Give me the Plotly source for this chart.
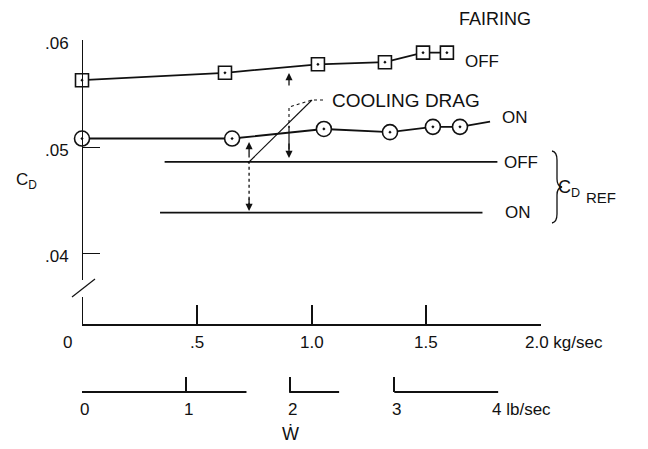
import plotly.graph_objects as go

W, H = 648, 449

# ---------------- data ----------------
# fairing OFF (squares), mass flow in kg/sec vs C_D
off_x = [0.0, 0.623, 1.028, 1.320, 1.486, 1.590]
off_cd = [0.0563, 0.0570, 0.0578, 0.0580, 0.0589, 0.0589]
# fairing ON (circles)
on_x = [0.0, 0.654, 1.054, 1.342, 1.529, 1.647]
on_cd = [0.0508, 0.0508, 0.0517, 0.0514, 0.0519, 0.0519]
# faired extension of the ON curve past the last point
on_tail_x = [1.647, 1.778]
on_tail_cd = [0.0519, 0.0524]
# reference drag levels
ref_off_x = [0.36, 1.81]
ref_off_cd = [0.0486, 0.0486]
ref_on_x = [0.34, 1.745]
ref_on_cd = [0.0438, 0.0438]

cd_ticks = [0.04, 0.05, 0.06]
cd_labels = [".04", ".05", ".06"]
kg_ticks = [0.0, 0.5, 1.0, 1.5, 2.0]
kg_labels = ["0", ".5", "1.0", "1.5", "2.0 kg/sec"]
lb_ticks = [0, 1, 2, 3, 4]
lb_labels = ["0", "1", "2", "3", "4 lb/sec"]
lb_axis_segments = [(0.0, 1.58), (1.99, 2.47), (3.0, 4.0)]
LB_TO_KG = 0.45359

# cooling-drag dimension marks (x in kg/sec, C_D values)
dim_off_x = 0.902
dim_off_top = 0.05698
dim_off_bot = 0.04896
dim_on_x = 0.728
dim_on_top = 0.05047
dim_on_bot = 0.04396

# ---------------- layout geometry ----------------
X0_PX, X2_PX = 82, 541          # kg axis 0 .. 2.0
Y_AX_PX = 324                    # kg axis height
Y_TOP_PX = 40
LB_AX_PX = 392
KG_PER_PX = 2.0 / (X2_PX - X0_PX)
Y05_PX, PX_PER_CD = 147, 10600.0


def px(x):
    return x / W


def py(y):
    return 1 - y / H


y_range = [0.05 - (Y_AX_PX - Y05_PX) / PX_PER_CD, 0.05 + (Y05_PX - Y_TOP_PX) / PX_PER_CD]
lb_end_px = X0_PX + 4 * LB_TO_KG / KG_PER_PX

FONT = "Liberation Sans, Arial, DejaVu Sans, sans-serif"
INK = "#111111"
TICK_FONT = 17

fig = go.Figure()

line_style = dict(color=INK, width=1.8)
fig.add_trace(go.Scatter(x=ref_off_x, y=ref_off_cd, mode="lines", line=line_style,
                         showlegend=False, hoverinfo="skip"))
fig.add_trace(go.Scatter(x=ref_on_x, y=ref_on_cd, mode="lines", line=line_style,
                         showlegend=False, hoverinfo="skip"))
fig.add_trace(go.Scatter(x=on_tail_x, y=on_tail_cd, mode="lines", line=line_style,
                         showlegend=False, hoverinfo="skip"))
fig.add_trace(go.Scatter(
    x=off_x, y=off_cd, mode="lines+markers", line=line_style, cliponaxis=False,
    marker=dict(symbol="square-dot", size=13, color="white", line=dict(color=INK, width=1.6)),
    showlegend=False, name="Fairing off"))
fig.add_trace(go.Scatter(
    x=on_x, y=on_cd, mode="lines+markers", line=line_style, cliponaxis=False,
    marker=dict(symbol="circle-dot", size=15, color="white", line=dict(color=INK, width=1.6)),
    showlegend=False, name="Fairing on"))
# trace that brings the lb/sec axis into existence
fig.add_trace(go.Scatter(x=[0, 4], y=[None, None], xaxis="x2", yaxis="y", mode="lines",
                         showlegend=False, hoverinfo="skip"))

shapes = []
# broken C_D axis
shapes.append(dict(type="line", xref="x", yref="paper", x0=0, x1=0, y0=py(Y_TOP_PX), y1=py(280),
                   line=dict(color=INK, width=2)))
shapes.append(dict(type="line", xref="x", yref="paper", x0=0, x1=0, y0=py(297), y1=py(Y_AX_PX),
                   line=dict(color=INK, width=2)))
shapes.append(dict(type="line", xref="paper", yref="paper", x0=px(72), y0=py(297), x1=px(95), y1=py(279),
                   line=dict(color=INK, width=1.2)))
# lb/sec axis line (with the gaps of the original)
for a, b in lb_axis_segments:
    shapes.append(dict(type="line", xref="x2", yref="paper", x0=a, x1=b, y0=py(LB_AX_PX), y1=py(LB_AX_PX),
                       line=dict(color=INK, width=2)))
# cooling drag leader lines
shapes.append(dict(type="path", xref="paper", yref="paper",
                   path=f"M {px(323)},{py(100)} L {px(312)},{py(100)} L {px(289)},{py(107)} L {px(289)},{py(128)}",
                   line=dict(color=INK, width=1.1, dash="dot")))
shapes.append(dict(type="line", xref="paper", yref="paper", x0=px(312), y0=py(100), x1=px(248), y1=py(163),
                   line=dict(color=INK, width=1.1)))
# dimension lines
shapes.append(dict(type="line", xref="x", yref="y", x0=dim_off_x, x1=dim_off_x,
                   y0=dim_off_bot + 0.0008, y1=0.0520, line=dict(color=INK, width=1.2)))
shapes.append(dict(type="line", xref="x", yref="y", x0=dim_on_x, x1=dim_on_x,
                   y0=dim_on_bot + 0.0005, y1=0.0486, line=dict(color=INK, width=1.3, dash="dot")))
# brace for C_D REF
bx, by0, by1 = 552, 151, 223
bm = (by0 + by1) / 2
shapes.append(dict(type="path", xref="paper", yref="paper",
                   path=(f"M {px(bx)},{py(by0)} Q {px(bx+5)},{py(by0+1)} {px(bx+5)},{py(by0+9)} "
                         f"L {px(bx+5)},{py(bm-8)} Q {px(bx+5)},{py(bm-1)} {px(bx+10)},{py(bm)} "
                         f"Q {px(bx+5)},{py(bm+1)} {px(bx+5)},{py(bm+8)} "
                         f"L {px(bx+5)},{py(by1-9)} Q {px(bx+5)},{py(by1-1)} {px(bx)},{py(by1)}"),
                   line=dict(color=INK, width=1.3)))

ann = []


def text(t, x, y, size=17, xanchor="center", yanchor="middle"):
    ann.append(dict(text=t, x=px(x), y=py(y), xref="paper", yref="paper", showarrow=False,
                    xanchor=xanchor, yanchor=yanchor, font=dict(family=FONT, size=size, color=INK)))


# C_D tick labels
for v, lab in zip(cd_ticks, cd_labels):
    ann.append(dict(text=lab, x=px(71), y=v, xref="paper", yref="y", yshift=-3, showarrow=False,
                    xanchor="right", yanchor="middle", font=dict(family=FONT, size=TICK_FONT, color=INK)))
# kg/sec tick labels
for v, lab in zip(kg_ticks, kg_labels):
    if v == 0:
        ann.append(dict(text=lab, x=v, y=py(342), xref="x", yref="paper", xshift=-15, showarrow=False,
                        xanchor="center", yanchor="middle", font=dict(family=FONT, size=TICK_FONT, color=INK)))
    elif v == kg_ticks[-1]:
        ann.append(dict(text=lab, x=v, y=py(342), xref="x", yref="paper", xshift=-18, showarrow=False,
                        xanchor="left", yanchor="middle", font=dict(family=FONT, size=TICK_FONT, color=INK)))
    else:
        ann.append(dict(text=lab, x=v, y=py(342), xref="x", yref="paper", showarrow=False,
                        xanchor="center", yanchor="middle", font=dict(family=FONT, size=TICK_FONT, color=INK)))
# lb/sec tick labels
for v, lab in zip(lb_ticks, lb_labels):
    if v == lb_ticks[-1]:
        ann.append(dict(text=lab, x=v, y=py(409), xref="x2", yref="paper", xshift=-8, showarrow=False,
                        xanchor="left", yanchor="middle", font=dict(family=FONT, size=TICK_FONT, color=INK)))
    else:
        ann.append(dict(text=lab, x=v, y=py(409), xref="x2", yref="paper", xshift=2, showarrow=False,
                        xanchor="center", yanchor="middle", font=dict(family=FONT, size=TICK_FONT, color=INK)))

text("\u1E86", 290, 434, size=18)
text("C<sub>D</sub>", 26, 181, size=17)
text("FAIRING", 495, 19, size=18)
text("OFF", 463, 61, size=17, xanchor="left")
text("COOLING DRAG", 330, 100, size=19, xanchor="left")
text("ON", 500, 117, size=17, xanchor="left")
text("OFF", 502, 162, size=17, xanchor="left")
text("ON", 503, 212, size=17, xanchor="left")
text("C<sub>D</sub>", 556, 188, size=18, xanchor="left")
text("REF", 584, 198, size=15, xanchor="left")

# dimension arrowheads
arrow = dict(showarrow=True, arrowhead=2, arrowsize=1.1, arrowwidth=1.3, arrowcolor=INK, text="",
             xref="x", yref="y", axref="pixel", ayref="pixel")
ann.append(dict(arrow, x=dim_off_x, y=dim_off_top, ax=0, ay=14))
ann.append(dict(arrow, x=dim_off_x, y=dim_off_bot, ax=0, ay=-16))
ann.append(dict(arrow, x=dim_on_x, y=dim_on_top, ax=0, ay=17))
ann.append(dict(arrow, x=dim_on_x, y=dim_on_bot, ax=0, ay=-14))

fig.update_layout(
    width=W, height=H,
    margin=dict(l=0, r=0, t=0, b=0),
    paper_bgcolor="white", plot_bgcolor="rgba(0,0,0,0)",
    xaxis=dict(domain=[px(X0_PX), px(X2_PX)], range=[0, 2.0], anchor="y",
               showline=True, linecolor=INK, linewidth=2, ticks="inside", ticklen=19,
               tickwidth=1.5, tickcolor=INK, tickvals=kg_ticks[1:], showticklabels=False,
               showgrid=False, zeroline=False),
    xaxis2=dict(domain=[px(X0_PX), px(lb_end_px)], range=[0, 4], anchor="free", position=py(LB_AX_PX),
                showline=False, ticks="inside", ticklen=15, tickwidth=1.5, tickcolor=INK,
                tickvals=lb_ticks, showticklabels=False, showgrid=False, zeroline=False),
    yaxis=dict(domain=[py(Y_AX_PX), py(Y_TOP_PX)], range=y_range, anchor="x",
               showline=False, ticks="inside", ticklen=18, tickwidth=1.2, tickcolor=INK,
               tickvals=cd_ticks, showticklabels=False, showgrid=False, zeroline=False),
    shapes=shapes,
    annotations=ann,
    font=dict(family=FONT, color=INK),
)

fig.write_html("out.html")
